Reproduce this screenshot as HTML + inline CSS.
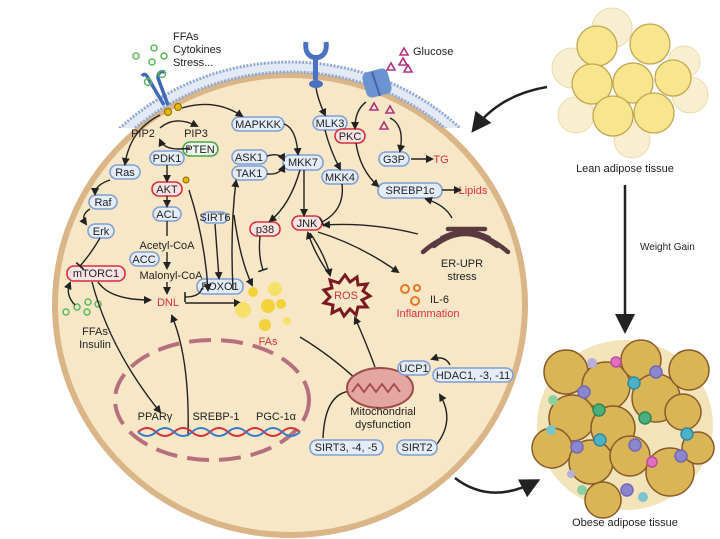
<!DOCTYPE html>
<html><head><meta charset="utf-8"><style>
body{margin:0;background:#fff}
svg{display:block;font-family:"Liberation Sans",sans-serif}
.b{fill:#e4ecf8;stroke:#7f9fd6;stroke-width:1.6}
.r{fill:#fbe3e3;stroke:#d8303a;stroke-width:1.6}
.g{fill:#eef7ee;stroke:#45a548;stroke-width:1.6}
.t{font-size:11px;fill:#222;text-anchor:middle}
.rt{font-size:11px;fill:#d8303a;text-anchor:middle}
.a{fill:none;stroke:#222;stroke-width:1.4;marker-end:url(#ah)}
.i{fill:none;stroke:#222;stroke-width:1.4;marker-end:url(#tb)}
.l{fill:none;stroke:#222;stroke-width:1.4}
</style></head><body>
<svg width="720" height="539" viewBox="0 0 720 539">
<defs>
<marker id="ah" markerWidth="8" markerHeight="8" refX="6" refY="4" orient="auto" markerUnits="userSpaceOnUse"><path d="M0,0 L8,4 L0,8 z" fill="#222"/></marker>
<marker id="big" markerWidth="20" markerHeight="20" refX="14" refY="10" orient="auto" markerUnits="userSpaceOnUse"><path d="M0,0 L20,10 L0,20 z" fill="#222"/></marker>
<marker id="tb" markerWidth="4" markerHeight="10" refX="2" refY="5" orient="auto" markerUnits="userSpaceOnUse"><path d="M2,0 L2,10" stroke="#222" stroke-width="1.6"/></marker>
<clipPath id="mc"><rect x="90" y="40" width="380" height="88"/></clipPath>
</defs>
<!-- cell -->
<ellipse cx="290" cy="305" rx="235" ry="230" fill="#f8e7c6" stroke="#d9b587" stroke-width="6"/>
<g clip-path="url(#mc)">
<ellipse cx="290" cy="305" rx="243" ry="238" fill="none" stroke="#e3eaf5" stroke-width="10"/>
<ellipse cx="290" cy="305" rx="248" ry="243" fill="none" stroke="#8fa9d6" stroke-width="3" stroke-dasharray="2 1.5"/>
<ellipse cx="290" cy="305" rx="238" ry="233" fill="none" stroke="#8fa9d6" stroke-width="3" stroke-dasharray="2 1.5"/>
</g>
<!-- ligands -->
<g fill="none" stroke="#5cb85c" stroke-width="1.5">
<circle cx="136" cy="56" r="3"/><circle cx="154" cy="48" r="3"/><circle cx="164" cy="56" r="3"/><circle cx="152" cy="62" r="3"/>
<circle cx="98" cy="304" r="3"/><circle cx="77" cy="307" r="3"/><circle cx="87" cy="312" r="3"/><circle cx="88" cy="302" r="3"/><circle cx="66" cy="312" r="3"/>
</g>
<text x="173" y="40" font-size="11" fill="#222">FFAs</text>
<text x="173" y="53" font-size="11" fill="#222">Cytokines</text>
<text x="173" y="66" font-size="11" fill="#222">Stress...</text>
<!-- receptor -->
<g fill="none" stroke="#4169b8" stroke-width="3.5">
<path d="M164,105 L148,78 Q145,72 142,76"/><path d="M168,105 L158,78 Q158,70 165,72"/>
</g>
<circle cx="148" cy="82" r="3.5" fill="none" stroke="#5cb85c" stroke-width="1.5"/>
<circle cx="162" cy="74" r="3.5" fill="none" stroke="#5cb85c" stroke-width="1.5"/>
<circle cx="168" cy="112" r="3.5" fill="#e6b800" stroke="#8a6a00"/><circle cx="178" cy="107" r="3.5" fill="#e6b800" stroke="#8a6a00"/>
<!-- MLK3 receptor -->
<path d="M306,42 Q304,56 316,58 Q328,56 326,42" fill="none" stroke="#4a72c0" stroke-width="5"/>
<rect x="313" y="55" width="5" height="25" fill="#4a72c0"/><ellipse cx="316" cy="84" rx="7" ry="4" fill="#4a72c0"/>
<!-- glucose transporter -->
<rect x="364" y="70" width="26" height="26" rx="6" fill="#6b93cf" transform="rotate(-15 377 83)"/>
<path d="M372,72 L380,96" stroke="#3f66ad" stroke-width="2"/>
<g fill="none" stroke="#b03080" stroke-width="1.6">
<path d="M400,55 l4,-7 l4,7z"/><path d="M387,70 l4,-7 l4,7z"/><path d="M404,72 l4,-7 l4,7z"/><path d="M399,65 l4,-7 l4,7z"/>
<path d="M370,110 l4,-7 l4,7z"/><path d="M386,113 l4,-7 l4,7z"/><path d="M380,129 l4,-7 l4,7z"/>
</g>
<text x="413" y="55" font-size="11" fill="#222">Glucose</text>
<!-- nodes -->
<text class="t" x="143" y="137">PIP2</text><text class="t" x="196" y="137">PIP3</text>
<rect class="g" x="183" y="142" width="35" height="14" rx="7"/><text class="t" x="200" y="153">PTEN</text>
<rect class="b" x="232" y="117" width="52" height="14" rx="7"/><text class="t" x="258" y="128">MAPKKK</text>
<rect class="b" x="150" y="151" width="34" height="14" rx="7"/><text class="t" x="167" y="162">PDK1</text>
<rect class="r" x="152" y="182" width="30" height="14" rx="7"/><text class="t" x="167" y="193">AKT</text>
<circle cx="186" cy="180" r="3" fill="#e6b800" stroke="#8a6a00"/>
<rect class="b" x="153" y="207" width="28" height="14" rx="7"/><text class="t" x="167" y="218">ACL</text>
<text class="t" x="167" y="249">Acetyl-CoA</text>
<rect class="b" x="130" y="252" width="29" height="14" rx="7"/><text class="t" x="144" y="263">ACC</text>
<text class="t" x="171" y="279">Malonyl-CoA</text>
<text class="rt" x="168" y="306" font-size="14">DNL</text>
<rect class="b" x="110" y="165" width="30" height="14" rx="7"/><text class="t" x="125" y="176">Ras</text>
<rect class="b" x="89" y="195" width="28" height="14" rx="7"/><text class="t" x="103" y="206">Raf</text>
<rect class="b" x="88" y="224" width="26" height="14" rx="7"/><text class="t" x="101" y="235">Erk</text>
<rect class="r" x="67" y="266" width="58" height="15" rx="7"/><text class="t" x="96" y="277">mTORC1</text>
<text class="t" x="95" y="335">FFAs</text><text class="t" x="95" y="348">Insulin</text>
<rect class="b" x="203" y="212" width="24" height="11" rx="5"/><text class="t" x="215" y="221" font-size="7">SIRT6</text>
<rect class="b" x="197" y="279" width="46" height="15" rx="7"/><text class="t" x="220" y="290">FOXO1</text>
<rect class="b" x="232" y="150" width="35" height="14" rx="7"/><text class="t" x="249" y="161">ASK1</text>
<rect class="b" x="232" y="166" width="35" height="14" rx="7"/><text class="t" x="249" y="177">TAK1</text>
<rect class="b" x="283" y="155" width="40" height="15" rx="7"/><text class="t" x="303" y="166">MKK7</text>
<rect class="b" x="313" y="116" width="34" height="14" rx="7"/><text class="t" x="330" y="127">MLK3</text>
<rect class="r" x="335" y="129" width="30" height="14" rx="7"/><text class="t" x="350" y="140">PKC</text>
<rect class="b" x="322" y="170" width="36" height="14" rx="7"/><text class="t" x="340" y="181">MKK4</text>
<rect class="r" x="292" y="216" width="30" height="14" rx="7"/><text class="t" x="307" y="227">JNK</text>
<rect class="r" x="250" y="222" width="30" height="14" rx="7"/><text class="t" x="265" y="233">p38</text>
<rect class="b" x="379" y="152" width="30" height="14" rx="7"/><text class="t" x="394" y="163">G3P</text>
<text class="rt" x="441" y="163">TG</text>
<rect class="b" x="378" y="183" width="64" height="15" rx="7"/><text class="t" x="410" y="194">SREBP1c</text>
<text class="rt" x="473" y="194">Lipids</text>
<!-- arrows -->
<path class="a" d="M182,108 Q215,98 242,116"/>
<path class="a" d="M160,128 Q175,115 197,126"/>
<path class="a" d="M190,148 Q165,152 160,140"/>
<path class="a" d="M160,115 Q130,130 125,164"/>
<path class="a" d="M110,180 Q95,185 95,194"/>
<path class="a" d="M90,209 Q80,215 86,224"/>
<path class="i" d="M100,238 Q90,255 80,266"/>
<path class="a" d="M75,305 Q65,295 70,283"/>
<path class="a" d="M167,165 L167,181"/><path class="a" d="M167,196 L167,206"/>
<path class="l" d="M167,221 L167,236"/><path class="a" d="M167,252 L167,268"/><path class="a" d="M167,282 L167,293"/>
<path class="a" d="M98,282 Q110,300 150,300"/>
<path class="a" d="M92,282 Q110,350 160,412"/>
<path class="a" d="M188,436 Q190,360 172,316"/>
<path class="i" d="M202,288 Q200,297 185,297"/>
<path class="a" d="M185,303 L240,303"/>
<path class="a" d="M189,190 Q205,240 208,290"/>
<path class="a" d="M215,224 L219,278"/>
<path class="a" d="M233,290 Q230,230 236,181"/>
<path class="a" d="M284,124 Q296,128 298,154"/>
<path class="a" d="M267,156 Q280,152 284,160"/>
<path class="a" d="M267,174 Q280,175 284,166"/>
<path class="a" d="M300,170 Q290,205 270,221"/>
<path class="a" d="M304,170 L304,215"/>
<path class="i" d="M260,236 Q258,255 263,270"/>
<path class="a" d="M234,215 Q240,260 252,285"/>
<path class="a" d="M316,88 Q318,100 325,115"/>
<path class="a" d="M325,130 Q330,150 340,169"/>
<path class="i" d="M342,184 Q345,210 322,222"/>
<path class="a" d="M366,102 Q355,110 355,128"/>
<path class="a" d="M356,143 Q360,170 378,186"/>
<path class="a" d="M390,118 Q405,125 400,151"/>
<path class="a" d="M411,159 L432,159"/>
<path class="a" d="M442,190 L460,190"/>
<path class="a" d="M452,218 Q445,205 426,199"/>
<path class="a" d="M418,234 Q370,222 324,225"/>
<path class="a" d="M310,233 Q325,255 330,275"/>
<path class="a" d="M330,275 Q315,255 308,233"/>
<path class="a" d="M318,232 Q360,245 398,272"/>
<path class="a" d="M375,367 Q365,340 355,318"/>
<path class="i" d="M300,337 Q330,355 357,380"/>
<path class="i" d="M323,438 Q325,392 352,391"/>
<path class="a" d="M437,444 Q455,420 440,395"/>
<path class="a" d="M450,365 Q445,355 432,359"/>
<!-- ER -->
<g fill="none" stroke="#5a3a3e" stroke-width="4.5" stroke-linecap="round">
<path d="M423,252 Q465,215 508,252"/><path d="M434,246 Q465,222 497,246"/>
<path d="M442,238 Q465,226 489,238"/><path d="M448,229 L485,229"/>
</g>
<text class="t" x="462" y="267">ER-UPR</text><text class="t" x="462" y="280">stress</text>
<!-- ROS -->
<polygon points="345,275 350,282 357,277 358,285 367,284 363,291 370,296 362,300 367,307 358,307 356,315 350,309 344,316 340,309 332,313 333,305 324,303 330,297 324,290 332,288 330,280 339,283" fill="#f8e7c6" stroke="#7a1a20" stroke-width="3"/>
<text class="rt" x="346" y="299" font-size="10" fill="#c0282e">ROS</text>
<g fill="none" stroke="#e87722" stroke-width="2"><circle cx="405" cy="289" r="4"/><circle cx="417" cy="288" r="3"/><circle cx="415" cy="301" r="4"/></g>
<text x="430" y="303" font-size="11" fill="#222">IL-6</text>
<text class="rt" x="428" y="317">Inflammation</text>
<!-- FAs -->
<g fill="#f2d43a">
<circle cx="253" cy="292" r="5"/><circle cx="275" cy="289" r="7" fill="#f5e06a"/><circle cx="268" cy="306" r="7"/><circle cx="243" cy="310" r="8" fill="#f5e06a"/><circle cx="281" cy="304" r="5"/><circle cx="265" cy="325" r="6"/><circle cx="287" cy="321" r="4" fill="#f5e06a"/>
</g>
<text class="rt" x="268" y="345">FAs</text>
<!-- mito -->
<ellipse cx="380" cy="388" rx="33" ry="20" fill="#e3a6a0" stroke="#a14a4a" stroke-width="2"/>
<path d="M352,392 l6,-8 l6,8 l6,-8 l6,8 l6,-8 l6,8 l6,-8 l6,8" fill="none" stroke="#a14a4a" stroke-width="1.8"/>
<rect class="b" x="398" y="361" width="32" height="14" rx="7"/><text class="t" x="414" y="372">UCP1</text>
<rect class="b" x="433" y="368" width="80" height="14" rx="7"/><text class="t" x="473" y="379">HDAC1, -3, -11</text>
<text class="t" x="383" y="415">Mitochondrial</text><text class="t" x="383" y="428">dysfunction</text>
<rect class="b" x="310" y="440" width="73" height="15" rx="7"/><text class="t" x="346" y="451">SIRT3, -4, -5</text>
<rect class="b" x="397" y="440" width="40" height="15" rx="7"/><text class="t" x="417" y="451">SIRT2</text>
<!-- nucleus -->
<ellipse cx="212" cy="400" rx="97" ry="60" fill="none" stroke="#b5707e" stroke-width="4" stroke-dasharray="22 10"/>
<text class="t" x="155" y="420">PPARγ</text><text class="t" x="216" y="420">SREBP-1</text><text class="t" x="276" y="420">PGC-1α</text>
<path d="M138,432 q9,-8 18,0 t18,0 t18,0 t18,0 t18,0 t18,0 t18,0 t18,0 t18,0" fill="none" stroke="#d8303a" stroke-width="2"/>
<path d="M138,432 q9,8 18,0 t18,0 t18,0 t18,0 t18,0 t18,0 t18,0 t18,0 t18,0" fill="none" stroke="#3a7bc8" stroke-width="2"/>
<!-- big arrows -->
<path d="M547,87 Q500,95 475,128" fill="none" stroke="#222" stroke-width="2.5" marker-end="url(#big)"/>
<path d="M625,185 L625,328" fill="none" stroke="#222" stroke-width="2.5" marker-end="url(#big)"/>
<path d="M455,478 Q490,505 535,482" fill="none" stroke="#222" stroke-width="2.5" marker-end="url(#big)"/>
<text x="640" y="250" font-size="10" fill="#222">Weight Gain</text>
<!-- lean tissue -->
<g fill="#f8efd0" stroke="#e9dcae" stroke-width="1">
<circle cx="612" cy="28" r="20"/><circle cx="572" cy="68" r="20"/><circle cx="690" cy="95" r="18"/><circle cx="576" cy="115" r="18"/><circle cx="632" cy="140" r="18"/><circle cx="684" cy="62" r="16"/>
</g>
<g fill="#f7e68e" stroke="#c4a650" stroke-width="1.3">
<circle cx="597" cy="46" r="20"/><circle cx="650" cy="44" r="20"/><circle cx="592" cy="84" r="20"/><circle cx="633" cy="83" r="20"/><circle cx="673" cy="78" r="18"/><circle cx="613" cy="116" r="20"/><circle cx="654" cy="113" r="20"/>
</g>
<text class="t" x="625" y="172" font-size="10">Lean adipose tissue</text>
<!-- obese tissue -->
<ellipse cx="625" cy="425" rx="88" ry="85" fill="#f2e4b8"/>
<g fill="#d9b556" stroke="#8a5a2a" stroke-width="1.5">
<circle cx="566" cy="372" r="22"/><circle cx="606" cy="386" r="24"/><circle cx="641" cy="360" r="20"/><circle cx="656" cy="398" r="24"/><circle cx="689" cy="370" r="20"/>
<circle cx="572" cy="418" r="23"/><circle cx="613" cy="428" r="22"/><circle cx="683" cy="412" r="18"/>
<circle cx="552" cy="448" r="20"/><circle cx="591" cy="462" r="22"/><circle cx="630" cy="456" r="20"/><circle cx="670" cy="472" r="24"/><circle cx="698" cy="448" r="16"/><circle cx="603" cy="500" r="18"/>
</g>
<g stroke-width="1.5">
<circle cx="584" cy="392" r="6" fill="#8c86cc" stroke="#7068b8"/><circle cx="656" cy="372" r="6" fill="#8c86cc" stroke="#7068b8"/><circle cx="577" cy="447" r="6" fill="#8c86cc" stroke="#7068b8"/><circle cx="635" cy="445" r="6" fill="#8c86cc" stroke="#7068b8"/><circle cx="681" cy="456" r="6" fill="#8c86cc" stroke="#7068b8"/><circle cx="627" cy="490" r="6" fill="#8c86cc" stroke="#7068b8"/><circle cx="592" cy="363" r="5" fill="#b5b0dc"/>
<circle cx="634" cy="383" r="6" fill="#4fb0c6" stroke="#2f8aa0"/><circle cx="600" cy="440" r="6" fill="#4fb0c6" stroke="#2f8aa0"/><circle cx="687" cy="434" r="6" fill="#4fb0c6" stroke="#2f8aa0"/><circle cx="551" cy="430" r="5" fill="#7cc4cc"/><circle cx="643" cy="497" r="5" fill="#7cc4cc"/>
<circle cx="599" cy="410" r="6" fill="#4caf7a" stroke="#2f8a58"/><circle cx="645" cy="418" r="6" fill="#4caf7a" stroke="#2f8a58"/><circle cx="553" cy="400" r="5" fill="#8cd0a0"/><circle cx="582" cy="490" r="5" fill="#8cd0a0"/>
<circle cx="616" cy="362" r="5" fill="#e070c0" stroke="#c04aa0"/><circle cx="652" cy="462" r="5" fill="#e070c0" stroke="#c04aa0"/><circle cx="571" cy="474" r="4" fill="#b5b0dc"/>
</g>
<text class="t" x="625" y="526" font-size="10">Obese adipose tissue</text>
</svg>
</body></html>
